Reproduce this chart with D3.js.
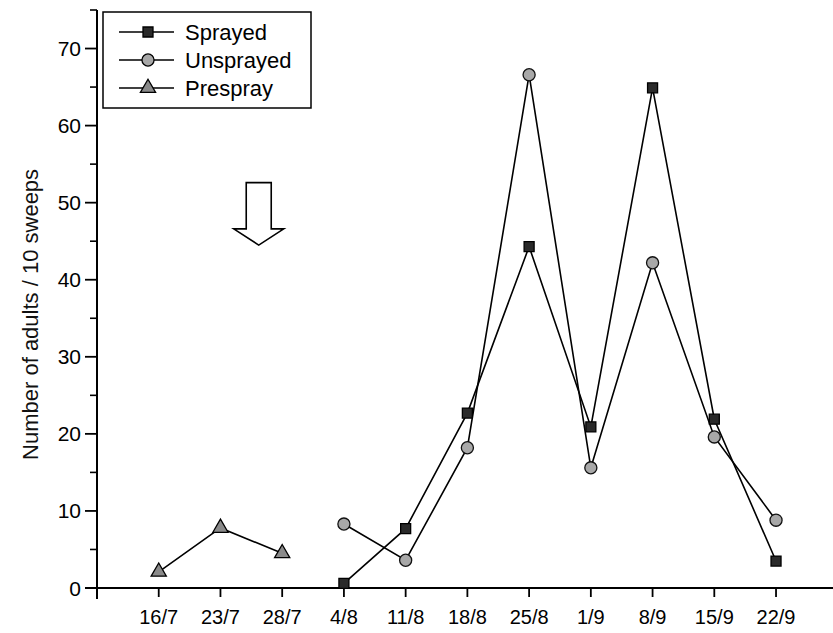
<!DOCTYPE html>
<html>
<head>
<meta charset="utf-8">
<script src="https://cdn.jsdelivr.net/npm/d3@7"></script>
<style>
  body { margin: 0; background: #fff; }
  svg { font-family: "Liberation Sans", Arial, sans-serif; }
</style>
</head>
<body>
<svg id="chart" width="833" height="633"></svg>
<script>
// sampling dates (category labels)
const dates = ["16/7", "23/7", "28/7", "4/8", "11/8", "18/8", "25/8", "1/9", "8/9", "15/9", "22/9"];

// adults per 10 sweeps
const prespray  = [2.1, 7.8, 4.5];
const sprayed   = [0.6, 7.7, 22.7, 44.3, 20.9, 64.9, 21.9, 3.5];
const unsprayed = [8.3, 3.6, 18.2, 66.6, 15.6, 42.2, 19.6, 8.8];
const yTicks = [0, 10, 20, 30, 40, 50, 60, 70];

// prespray covers the first 3 dates, sprayed/unsprayed the rest
const preData = prespray.map((v, i) => ({i: i, v: v}));
const sprData = sprayed.map((v, i) => ({i: i + 3, v: v}));
const unsData = unsprayed.map((v, i) => ({i: i + 3, v: v}));

const svg = d3.select("#chart");

const x = d3.scaleLinear().domain([-1, 11]).range([97, 97 + 12 * 61.73]);
const y = d3.scaleLinear().domain([0, 75]).range([588, 10]);

// y axis with major + minor ticks
svg.append("line")
    .attr("x1", x(-1)).attr("x2", x(-1))
    .attr("y1", y(75)).attr("y2", y(0) + 11)
    .attr("stroke", "#000").attr("stroke-width", 2);

const minor = d3.range(5, 80, 10);
svg.selectAll(".ymin").data(minor).enter().append("line")
    .attr("x1", x(-1) - 7).attr("x2", x(-1))
    .attr("y1", d => y(d)).attr("y2", d => y(d))
    .attr("stroke", "#000").attr("stroke-width", 1.6);

svg.selectAll(".ymaj").data(yTicks).enter().append("line")
    .attr("x1", x(-1) - 12).attr("x2", x(-1))
    .attr("y1", d => y(d)).attr("y2", d => y(d))
    .attr("stroke", "#000").attr("stroke-width", 1.8);

svg.selectAll(".ylab").data(yTicks).enter().append("text")
    .attr("x", x(-1) - 16)
    .attr("y", d => y(d))
    .attr("dy", "0.36em")
    .attr("text-anchor", "end")
    .attr("font-size", 21)
    .text(d => d);

// x axis
svg.append("line")
    .attr("x1", x(-1) - 12).attr("x2", 833)
    .attr("y1", y(0)).attr("y2", y(0))
    .attr("stroke", "#000").attr("stroke-width", 2);

svg.selectAll(".xtick").data(dates).enter().append("line")
    .attr("x1", (d, i) => x(i)).attr("x2", (d, i) => x(i))
    .attr("y1", y(0)).attr("y2", y(0) + 9)
    .attr("stroke", "#000").attr("stroke-width", 1.8);

svg.selectAll(".xlab").data(dates).enter().append("text")
    .attr("x", (d, i) => x(i))
    .attr("y", 624)
    .attr("text-anchor", "middle")
    .attr("font-size", 20)
    .text(d => d);

// y label
svg.append("text")
    .attr("transform", "translate(38," + y(35.5) + ") rotate(-90)")
    .attr("text-anchor", "middle")
    .attr("font-size", 22)
    .attr("fill", "#111")
    .text("Number of adults / 10 sweeps");

// lines
const line = d3.line().x(d => x(d.i)).y(d => y(d.v));
[preData, sprData, unsData].forEach(s => {
  svg.append("path")
      .datum(s)
      .attr("d", line)
      .attr("fill", "none")
      .attr("stroke", "#000")
      .attr("stroke-width", 1.6);
});

// markers
const sq = d3.symbol().type(d3.symbolSquare).size(100);
const ci = d3.symbol().type(d3.symbolCircle).size(115);
const tr = d3.symbol().type(d3.symbolTriangle).size(100);

function markers(data, sym, fill, stroke) {
  svg.append("g").selectAll("path").data(data).enter().append("path")
      .attr("d", sym)
      .attr("transform", d => "translate(" + x(d.i) + "," + y(d.v) + ")")
      .attr("fill", fill)
      .attr("stroke", stroke)
      .attr("stroke-width", 1.3);
}
markers(preData, tr, "#8a8a8a", "#000");
markers(unsData, ci, "#a8a8a8", "#111");
markers(sprData, sq, "#2a2a2a", "#000");

// spray date arrow (outlined)
const ax = x(1.62), aw = 12.5, hw = 25;
const aTop = y(52.6), aNeck = y(46.6), aTip = y(44.5);
svg.append("path")
    .attr("d", "M" + (ax - aw) + "," + aTop + "L" + (ax + aw) + "," + aTop +
               "L" + (ax + aw) + "," + aNeck + "L" + (ax + hw) + "," + aNeck +
               "L" + ax + "," + aTip + "L" + (ax - hw) + "," + aNeck +
               "L" + (ax - aw) + "," + aNeck + "Z")
    .attr("fill", "#fff")
    .attr("stroke", "#000")
    .attr("stroke-width", 1.6);

// legend
const legend = svg.append("g");
legend.append("rect")
    .attr("x", 103).attr("y", 12).attr("width", 208).attr("height", 96)
    .attr("fill", "#fff").attr("stroke", "#000").attr("stroke-width", 1.5);

const legItems = [
  {name: "Sprayed", sym: sq, fill: "#2a2a2a"},
  {name: "Unsprayed", sym: ci, fill: "#a8a8a8"},
  {name: "Prespray", sym: tr, fill: "#8a8a8a"}
];
legItems.forEach((d, k) => {
  const ly = 32 + k * 28;
  legend.append("line")
      .attr("x1", 119).attr("x2", 174).attr("y1", ly).attr("y2", ly)
      .attr("stroke", "#000").attr("stroke-width", 1.5);
  legend.append("path")
      .attr("d", d.sym)
      .attr("transform", "translate(148," + ly + ")")
      .attr("fill", d.fill).attr("stroke", "#000").attr("stroke-width", 1.3);
  legend.append("text")
      .attr("x", 185).attr("y", ly).attr("dy", "0.36em")
      .attr("font-size", 22)
      .text(d.name);
});
</script>
</body>
</html>
